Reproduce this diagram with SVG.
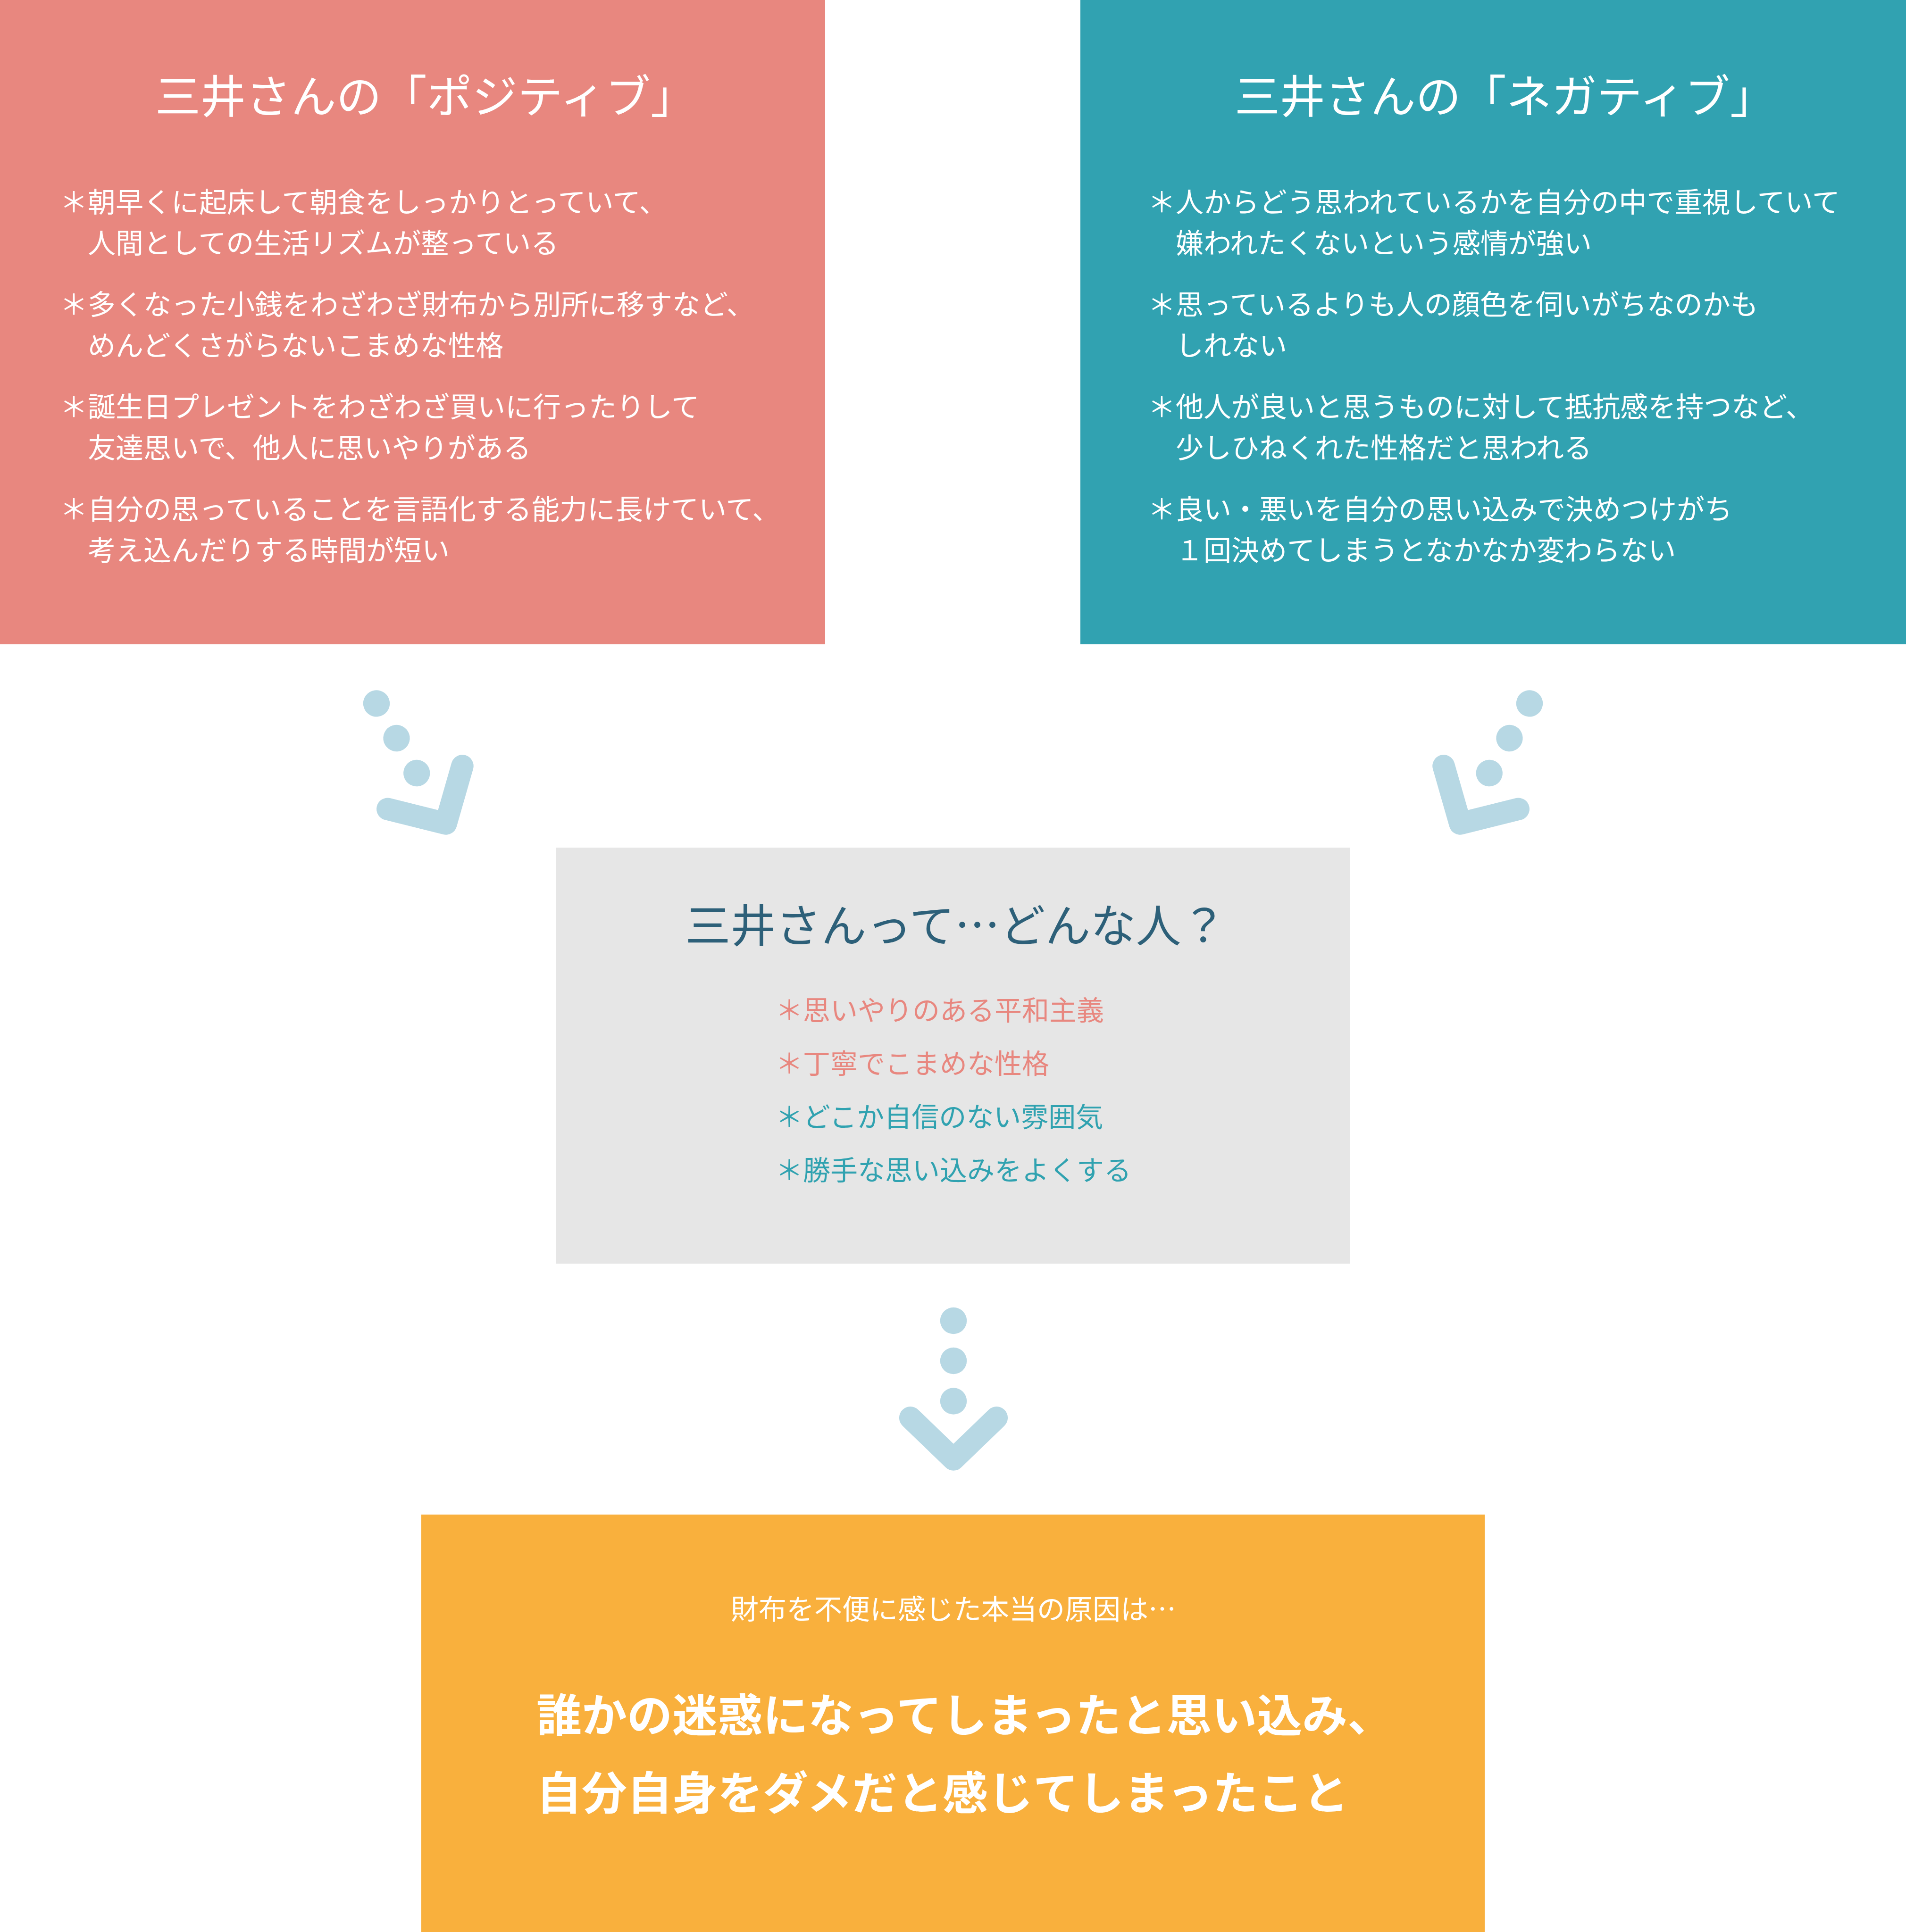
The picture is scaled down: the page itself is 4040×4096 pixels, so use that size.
<svg xmlns="http://www.w3.org/2000/svg" width="4040" height="4096" viewBox="0 0 4040 4096">
<style>
text{font-family:"Noto Sans CJK JP","Noto Sans CJK SC",sans-serif;}
.title{font-size:96px;fill:#fff;text-anchor:middle;}
.item{font-size:59px;fill:#fff;}
.gtitle{font-size:96px;fill:#2d6079;text-anchor:middle;}
.gp{font-size:58px;fill:#e8877f;}
.gt{font-size:58px;fill:#30a2b0;}
.sub{font-size:59px;fill:#fff;text-anchor:middle;}
.main{font-size:96px;fill:#fff;font-weight:700;}
.dot{fill:#b7d8e4;}
.chev{fill:none;stroke:#b7d8e4;stroke-width:47.6;stroke-linecap:round;stroke-linejoin:round;}
</style>
<defs>
<g id="arrow">
<circle class="dot" cx="0" cy="-294" r="28.2"/>
<circle class="dot" cx="0" cy="-209" r="28.2"/>
<circle class="dot" cx="0" cy="-123.5" r="28.2"/>
<polyline class="chev" points="-91.3,-88.2 0,0 91.3,-88.2"/>
</g>
</defs>
<rect width="4040" height="4096" fill="#fff"/>
<g id="positive">
<rect x="0" y="0" width="1749" height="1366" fill="#e8877f"/>
<text class="title" x="902" y="239">三井さんの「ポジティブ」</text>
<text class="item" x="127" y="450">＊朝早くに起床して朝食をしっかりとっていて、</text>
<text class="item" x="186" y="537">人間としての生活リズムが整っている</text>
<text class="item" x="127" y="667">＊多くなった小銭をわざわざ財布から別所に移すなど、</text>
<text class="item" x="186" y="754">めんどくさがらないこまめな性格</text>
<text class="item" x="127" y="884">＊誕生日プレゼントをわざわざ買いに行ったりして</text>
<text class="item" x="186" y="971">友達思いで、他人に思いやりがある</text>
<text class="item" x="127" y="1101">＊自分の思っていることを言語化する能力に長けていて、</text>
<text class="item" x="186" y="1188">考え込んだりする時間が短い</text>
</g>
<g id="negative">
<rect x="2290" y="0" width="1750" height="1366" fill="#31a2b1"/>
<text class="title" x="3190" y="239">三井さんの「ネガティブ」</text>
<text class="item" x="2433" y="450">＊人からどう思われているかを自分の中で重視していて</text>
<text class="item" x="2492" y="537">嫌われたくないという感情が強い</text>
<text class="item" x="2433" y="667">＊思っているよりも人の顔色を伺いがちなのかも</text>
<text class="item" x="2492" y="754">しれない</text>
<text class="item" x="2433" y="884">＊他人が良いと思うものに対して抵抗感を持つなど、</text>
<text class="item" x="2492" y="971">少しひねくれた性格だと思われる</text>
<text class="item" x="2433" y="1101">＊良い・悪いを自分の思い込みで決めつけがち</text>
<text class="item" x="2492" y="1188">１回決めてしまうとなかなか変わらない</text>
</g>
<g id="summary">
<rect x="1178" y="1797" width="1684" height="882" fill="#e6e6e6"/>
<text class="gtitle" x="2026" y="1997">三井さんって…どんな人？</text>
<text class="gp" x="1644" y="2163">＊思いやりのある平和主義</text>
<text class="gp" x="1644" y="2276">＊丁寧でこまめな性格</text>
<text class="gt" x="1644" y="2389">＊どこか自信のない雰囲気</text>
<text class="gt" x="1644" y="2502">＊勝手な思い込みをよくする</text>
</g>
<g id="conclusion">
<rect x="893" y="3211" width="2254" height="885" fill="#f9b03d"/>
<text class="sub" x="2021" y="3433">財布を不便に感じた本当の原因は…</text>
<text class="main" x="1137" y="3671">誰かの迷惑になってしまったと思い込み、</text>
<text class="main" x="1137" y="3836">自分自身をダメだと感じてしまったこと</text>
</g>
<g id="connectors">
<use href="#arrow" transform="translate(945,1746) rotate(-30)"/>
<use href="#arrow" transform="translate(3095,1746) rotate(30)"/>
<use href="#arrow" transform="translate(2021,3094)"/>
</g>
</svg>
